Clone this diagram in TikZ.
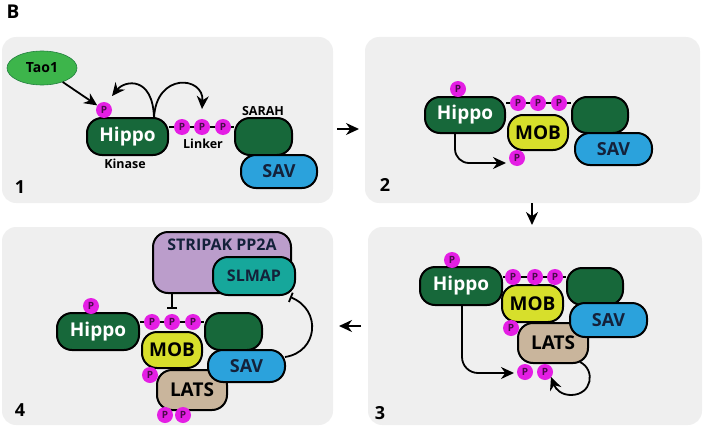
\documentclass[tikz,border=0pt]{standalone}
\usepackage{fontspec}
\setmainfont{Open Sans}
\usetikzlibrary{arrows.meta,shapes.geometric}
\definecolor{panelbg}{HTML}{EFEFEF}
\definecolor{hgreen}{HTML}{17683A}
\definecolor{taogreen}{HTML}{3DB54B}
\definecolor{pmag}{HTML}{E41EE4}
\definecolor{pdark}{HTML}{4B0A4B}
\definecolor{mobyel}{HTML}{D7DF2B}
\definecolor{savblue}{HTML}{2BA2DC}
\definecolor{latstan}{HTML}{C9B59C}
\definecolor{stripak}{HTML}{BB9DCB}
\definecolor{slmap}{HTML}{16A79B}
\definecolor{navytext}{HTML}{14213A}
\tikzset{
  pbox/.style={draw=black, line width=2pt, rounded corners=15pt, inner sep=0pt, font=\bfseries\fontsize{19}{19}\selectfont},
  phos/.style={circle, fill=pmag, inner sep=0pt, minimum size=16pt, font=\bfseries\fontsize{10}{10}\selectfont, text=pdark},
  panel/.style={fill=panelbg, rounded corners=14pt},
  arr/.style={-{Stealth[length=13pt,width=12pt]}, line width=1.8pt},
  inh/.style={-{Bar[width=10pt,line width=1.8pt]}, line width=1.8pt},
  linker/.style={line width=1.6pt},
  small/.style={font=\bfseries\fontsize{12.5}{12.5}\selectfont},
  num/.style={font=\bfseries\fontsize{18}{18}\selectfont},
}
\begin{document}
\begin{tikzpicture}[x=1pt,y=-1pt]
\useasboundingbox (0,0) rectangle (703,428);
\node[font=\bfseries\fontsize{19}{19}\selectfont, anchor=west] (B) at (3,12) {B};
% panels
\fill[panel] (2,37) rectangle (333,203);
\fill[panel] (365,37) rectangle (700,203);
\fill[panel] (368,227) rectangle (702,425);
\fill[panel] (2,227) rectangle (333,425);
% panel arrows
\coordinate (a12s) at (337,129); \coordinate (a12e) at (359,129);
\draw[arr] (a12s) -- (a12e);
\coordinate (a23s) at (532,203); \coordinate (a23e) at (532,225);
\draw[arr] (a23s) -- (a23e);
\coordinate (a34s) at (361,326); \coordinate (a34e) at (339,326);
\draw[arr] (a34s) -- (a34e);

% ===== Panel 1 =====
\node[ellipse, draw=hgreen!70!taogreen, line width=0.6pt, fill=taogreen, minimum width=70pt, minimum height=34pt, inner sep=0pt, font=\bfseries\fontsize{14}{14}\selectfont] (tao) at (42,68) {Tao1};
\coordinate (l1) at (0,127);
\node[pbox, fill=hgreen, minimum width=57pt, minimum height=37pt] (s1) at (263.5,136.5) {};
\node[pbox, fill=hgreen, text=white, minimum width=81pt, minimum height=37pt] (h1) at (127.5,136.5) {Hippo};
\draw[linker] (h1.east |- l1) -- (s1.west |- l1);
\node[pbox, fill=savblue, text=navytext, minimum width=76pt, minimum height=33pt, font=\bfseries\fontsize{18}{18}\selectfont] (v1) at (279,171.5) {SAV};
\node[phos] (p1a) at (182,127) {P};
\node[phos] (p1b) at (202,127) {P};
\node[phos] (p1c) at (223,127) {P};
\node[phos] (p1h) at (104,110) {P};
\node[small] (kin) at (125,164) {Kinase};
\node[small] (lnk) at (203,144) {Linker};
\node[small] (sar) at (263,111) {SARAH};
\node[num] (n1) at (20,187) {1};
\coordinate (c1s) at (154,118);
\coordinate (c1t) at (112,96);
\coordinate (c2t) at (202,109);
\draw[arr] (tao) -- (p1h);
\draw[arr] (c1s) .. controls (153,76) and (125,80) .. (c1t);
\draw[arr] (c1s) .. controls (156,72) and (204,76) .. (c2t);

% ===== Panel 2 =====
\coordinate (l2) at (0,103);
\node[pbox, fill=hgreen, minimum width=56pt, minimum height=36pt] (s2) at (600,115) {};
\node[pbox, fill=hgreen, text=white, minimum width=80pt, minimum height=36pt] (h2) at (465,115) {Hippo};
\draw[linker] (h2.east |- l2) -- (s2.west |- l2);
\node[pbox, fill=mobyel, text=black, minimum width=60pt, minimum height=35pt] (m2) at (538,132.5) {MOB};
\node[pbox, fill=savblue, text=navytext, minimum width=77pt, minimum height=32pt, font=\bfseries\fontsize{18}{18}\selectfont] (v2) at (613.5,149) {SAV};
\node[phos] (p2a) at (518,103) {P};
\node[phos] (p2b) at (538,103) {P};
\node[phos] (p2c) at (559,103) {P};
\node[phos] (p2h) at (458,89) {P};
\node[phos] (p2m) at (517,158) {P};
\node[num] (n2) at (385,185) {2};
\coordinate (a2s) at (455,133);
\coordinate (a2e) at (506,163);
\draw[arr, rounded corners=14pt] (a2s) -- (455,163) -- (a2e);

% ===== Panel 3 =====
\coordinate (l3) at (0,277);
\node[pbox, fill=hgreen, minimum width=56pt, minimum height=37pt] (s3) at (595,286.5) {};
\node[pbox, fill=hgreen, text=white, minimum width=82pt, minimum height=38pt] (h3) at (461,286) {Hippo};
\draw[linker] (h3.east |- l3) -- (s3.west |- l3);
\node[pbox, fill=mobyel, text=black, minimum width=61pt, minimum height=37pt] (m3) at (532.5,303.5) {MOB};
\node[pbox, fill=latstan, text=black, minimum width=70pt, minimum height=40pt] (t3) at (553,343) {LATS};
\node[pbox, fill=savblue, text=navytext, minimum width=77pt, minimum height=34pt, font=\bfseries\fontsize{18}{18}\selectfont] (v3) at (608.5,320) {SAV};
\node[phos] (p3a) at (513,277) {P};
\node[phos] (p3b) at (535,277) {P};
\node[phos] (p3c) at (555,277) {P};
\node[phos] (p3h) at (452,260) {P};
\node[phos] (p3m) at (511,328) {P};
\node[phos] (p3d) at (525,372) {P};
\node[phos] (p3e) at (545,372) {P};
\node[num] (n3) at (380,413) {3};
\coordinate (a3s) at (462,305);
\coordinate (a3e) at (514,373);
\draw[arr, rounded corners=16pt] (a3s) -- (462,373) -- (a3e);
\coordinate (s3s) at (580,362);
\coordinate (s3e) at (551,377);
\draw[arr] (s3s) .. controls (596,370) and (592,395) .. (571,395) .. controls (562,395) and (556,390) .. (s3e);

% ===== Panel 4 =====
\node[pbox, fill=stripak, minimum width=138pt, minimum height=61pt] (st) at (222,262.5) {};
\node[font=\bfseries\fontsize{16}{16}\selectfont, text=navytext] (stt) at (222,245) {STRIPAK PP2A};
\node[pbox, fill=slmap, text=navytext, minimum width=82pt, minimum height=38pt, font=\bfseries\fontsize{16}{16}\selectfont] (sl) at (254,276) {SLMAP};
\coordinate (l4) at (0,322);
\node[pbox, fill=hgreen, minimum width=57pt, minimum height=37pt] (s4) at (233.5,331.5) {};
\node[pbox, fill=hgreen, text=white, minimum width=82pt, minimum height=37pt] (h4) at (98,331.5) {Hippo};
\draw[linker] (h4.east |- l4) -- (s4.west |- l4);
\node[pbox, fill=mobyel, text=black, minimum width=60pt, minimum height=36pt] (m4) at (172,350) {MOB};
\node[pbox, fill=latstan, text=black, minimum width=70pt, minimum height=40pt] (t4) at (192,390) {LATS};
\node[pbox, fill=savblue, text=navytext, minimum width=77pt, minimum height=32pt, font=\bfseries\fontsize{18}{18}\selectfont] (v4) at (246.5,366) {SAV};
\node[phos] (p4a) at (152,322) {P};
\node[phos] (p4b) at (172,322) {P};
\node[phos] (p4c) at (193,322) {P};
\node[phos] (p4h) at (91,306) {P};
\node[phos] (p4m) at (150,375) {P};
\node[phos] (p4d) at (165,415) {P};
\node[phos] (p4e) at (183,415) {P};
\node[num] (n4) at (20,410) {4};
\coordinate (i1s) at (172,293);
\coordinate (i1e) at (172,309);
\draw[inh] (i1s) -- (i1e);
\coordinate (i2s) at (285,357);
\coordinate (i2e) at (290,297);
\draw[inh] (i2s) .. controls (318,352) and (322,310) .. (i2e);
\end{tikzpicture}
\end{document}
